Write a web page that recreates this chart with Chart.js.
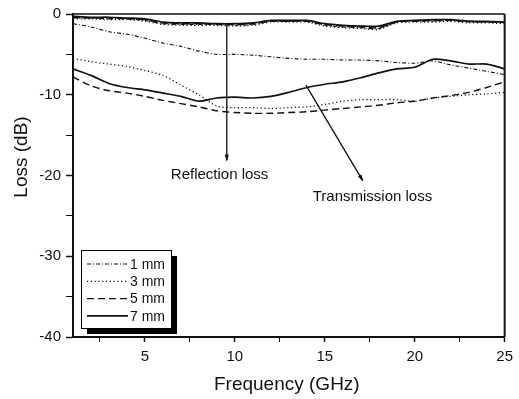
<!DOCTYPE html>
<html>
<head>
<meta charset="utf-8">
<script src="https://cdn.jsdelivr.net/npm/chart.js@4.4.0/dist/chart.umd.min.js"></script>
<style>
  html, body { margin: 0; padding: 0; background: #fff; }
  #wrap { width: 519px; height: 399px; }
</style>
</head>
<body>
<div id="wrap"><canvas id="lossChart" width="519" height="399"></canvas></div>
<script>
// Frequency points (GHz)
const freqs = [1, 2, 3, 4, 5, 6, 7, 8, 9, 10, 11, 12, 13, 14, 15, 16, 17, 18, 19, 20, 21, 22, 23, 24, 25];

// Transmission loss (dB) per sample thickness
const trans1mm = [-1.2, -1.6, -2.2, -2.5, -3.0, -3.6, -4.0, -4.6, -5.0, -5.0, -5.1, -5.3, -5.5, -5.6, -5.6, -5.7, -5.7, -5.8, -6.0, -6.1, -5.8, -6.3, -6.7, -7.1, -7.5];
const trans3mm = [-5.5, -5.9, -6.2, -6.5, -7.0, -7.6, -8.8, -10.0, -11.4, -11.6, -11.6, -11.7, -11.6, -11.5, -11.2, -10.8, -10.6, -10.6, -10.6, -10.8, -10.4, -10.2, -10.0, -9.9, -9.7];
const trans5mm = [-7.8, -8.9, -9.5, -9.8, -10.2, -10.7, -11.1, -11.5, -12.0, -12.2, -12.3, -12.3, -12.2, -12.1, -11.9, -11.7, -11.5, -11.3, -11.0, -10.8, -10.4, -10.1, -9.7, -9.1, -8.4];
const trans7mm = [-6.8, -7.6, -8.6, -9.1, -9.4, -9.8, -10.2, -10.8, -10.4, -10.3, -10.4, -10.2, -9.7, -9.1, -8.7, -8.4, -7.9, -7.3, -6.8, -6.6, -5.6, -5.8, -6.2, -6.2, -6.8];

// Reflection loss (dB) per sample thickness
const refl1mm = [-0.5, -0.5, -0.6, -0.6, -0.8, -1.2, -1.3, -1.3, -1.3, -1.4, -1.3, -0.9, -0.9, -0.9, -1.4, -1.6, -1.7, -1.8, -1.0, -0.9, -0.9, -0.8, -1.0, -1.0, -1.1];
const refl3mm = [-0.6, -0.6, -0.7, -0.7, -0.9, -1.3, -1.4, -1.4, -1.4, -1.5, -1.4, -1.0, -1.0, -1.0, -1.5, -1.7, -1.8, -1.9, -1.1, -1.0, -1.0, -0.9, -1.1, -1.1, -1.2];
const refl5mm = [-0.4, -0.5, -0.5, -0.6, -0.7, -1.1, -1.2, -1.2, -1.3, -1.3, -1.2, -0.9, -0.9, -0.9, -1.3, -1.5, -1.6, -1.7, -1.0, -0.9, -0.8, -0.8, -0.9, -1.0, -1.0];
const refl7mm = [-0.3, -0.4, -0.4, -0.5, -0.6, -1.0, -1.1, -1.1, -1.2, -1.2, -1.1, -0.8, -0.8, -0.8, -1.2, -1.4, -1.5, -1.5, -0.9, -0.8, -0.7, -0.7, -0.9, -0.9, -1.0];

const thicknessLabels = ['1 mm', '3 mm', '5 mm', '7 mm'];
const xTickValues = [2.5, 5, 7.5, 10, 12.5, 15, 17.5, 20, 22.5, 25];
const yTickValues = [-40, -35, -30, -25, -20, -15, -10, -5, 0];

const FONT = "'Liberation Sans', Arial, Helvetica, sans-serif";
const INK = '#111';

// dash pattern + width for each thickness
const lineStyles = [
    { dash: [4, 2, 1, 2], width: 1.1 },
    { dash: [1.2, 2.6], width: 1.3 },
    { dash: [7, 4], width: 1.4 },
    { dash: [], width: 1.7 }
];

function makeSet(label, values, idx) {
    return {
        label: label,
        data: freqs.map((f, i) => ({ x: f, y: values[i] })),
        borderColor: INK,
        borderWidth: lineStyles[idx].width,
        borderDash: lineStyles[idx].dash,
        pointRadius: 0,
        tension: 0.25,
        fill: false
    };
}

const transSeries = [trans1mm, trans3mm, trans5mm, trans7mm];
const reflSeries = [refl1mm, refl3mm, refl5mm, refl7mm];

const datasets = [];
transSeries.forEach((vals, i) => datasets.push(makeSet(thicknessLabels[i], vals, i)));
reflSeries.forEach((vals, i) => datasets.push(makeSet(thicknessLabels[i], vals, i)));

// annotation arrows, in data units: [fromX, fromY, toX, toY]
const reflArrow = [9.55, -1.4, 9.55, -18.1];
const transArrow = [13.95, -8.8, 17.1, -20.6];
const reflText = { text: 'Reflection loss', x: 9.15, y: -19.9 };
const transText = { text: 'Transmission loss', x: 17.65, y: -22.7 };

function drawArrow(ctx, x1, y1, x2, y2) {
    ctx.beginPath();
    ctx.moveTo(x1, y1);
    ctx.lineTo(x2, y2);
    ctx.stroke();
    const a = Math.atan2(y2 - y1, x2 - x1);
    const len = 6, spread = 0.35;
    ctx.beginPath();
    ctx.moveTo(x2 + 1.5 * Math.cos(a), y2 + 1.5 * Math.sin(a));
    ctx.lineTo(x2 - len * Math.cos(a - spread), y2 - len * Math.sin(a - spread));
    ctx.lineTo(x2 - len * Math.cos(a + spread), y2 - len * Math.sin(a + spread));
    ctx.closePath();
    ctx.fill();
}

const decorPlugin = {
    id: 'decor',
    afterDraw(chart) {
        const ctx = chart.ctx;
        const area = chart.chartArea;
        const xs = chart.scales.x, ys = chart.scales.y;
        ctx.save();
        ctx.strokeStyle = INK;
        ctx.fillStyle = INK;

        // top and right frame
        ctx.lineWidth = 1.5;
        ctx.beginPath();
        ctx.moveTo(area.left, area.top);
        ctx.lineTo(area.right, area.top);
        ctx.stroke();
        ctx.lineWidth = 2;
        ctx.beginPath();
        ctx.moveTo(area.right, area.top);
        ctx.lineTo(area.right, area.bottom);
        ctx.stroke();

        // arrows + labels
        ctx.lineWidth = 1.3;
        drawArrow(ctx, xs.getPixelForValue(reflArrow[0]), ys.getPixelForValue(reflArrow[1]),
                  xs.getPixelForValue(reflArrow[2]), ys.getPixelForValue(reflArrow[3]));
        drawArrow(ctx, xs.getPixelForValue(transArrow[0]), ys.getPixelForValue(transArrow[1]),
                  xs.getPixelForValue(transArrow[2]), ys.getPixelForValue(transArrow[3]));
        ctx.font = '15px ' + FONT;
        ctx.textAlign = 'center';
        ctx.textBaseline = 'middle';
        [reflText, transText].forEach(t => {
            ctx.fillText(t.text, xs.getPixelForValue(t.x), ys.getPixelForValue(t.y));
        });

        // axis titles
        ctx.font = '19px ' + FONT;
        ctx.fillText('Frequency (GHz)', (area.left + area.right) / 2 - 2, 385);
        ctx.save();
        ctx.translate(22, 157);
        ctx.rotate(-Math.PI / 2);
        ctx.fillText('Loss (dB)', 0, 0);
        ctx.restore();

        // legend box with drop shadow
        const bx = 81, by = 250, bw = 90, bh = 78;
        ctx.fillStyle = '#000';
        ctx.fillRect(bx + 6, by + 6, bw, bh);
        ctx.fillStyle = '#fff';
        ctx.fillRect(bx, by, bw, bh);
        ctx.lineWidth = 1;
        ctx.strokeStyle = '#000';
        ctx.strokeRect(bx + 0.5, by + 0.5, bw, bh);
        ctx.fillStyle = INK;
        ctx.font = '14px ' + FONT;
        ctx.textAlign = 'left';
        thicknessLabels.forEach((lab, i) => {
            const ds = chart.data.datasets[i];
            const ry = by + 14 + i * 17.3;
            ctx.save();
            ctx.lineWidth = ds.borderWidth;
            ctx.setLineDash(ds.borderDash);
            ctx.strokeStyle = INK;
            ctx.beginPath();
            ctx.moveTo(bx + 6, ry);
            ctx.lineTo(bx + 47, ry);
            ctx.stroke();
            ctx.restore();
            ctx.fillText(lab, bx + 49, ry + 1);
        });
        ctx.restore();
    }
};

new Chart(document.getElementById('lossChart'), {
    type: 'line',
    data: { datasets: datasets },
    plugins: [decorPlugin],
    options: {
        responsive: false,
        animation: false,
        layout: { padding: { left: 0, top: 14, right: 11, bottom: 0 } },
        plugins: {
            legend: { display: false },
            tooltip: { enabled: false }
        },
        scales: {
            x: {
                type: 'linear',
                min: 1,
                max: 25,
                afterBuildTicks: s => { s.ticks = xTickValues.map(v => ({ value: v })); },
                afterFit: s => { s.height = 62; },
                ticks: {
                    autoSkip: false,
                    maxRotation: 0,
                    padding: 6,
                    color: INK,
                    font: { family: FONT, size: 15 },
                    callback: v => (v % 5 === 0 ? String(v) : '')
                },
                grid: {
                    drawOnChartArea: false,
                    tickLength: 5,
                    tickWidth: c => (c.tick && c.tick.value % 5 === 0 ? 1.5 : 1),
                    tickColor: INK
                },
                border: { color: INK, width: 2 }
            },
            y: {
                min: -40,
                max: 0,
                afterBuildTicks: s => { s.ticks = yTickValues.map(v => ({ value: v })); },
                afterFit: s => { s.width = 73; },
                ticks: {
                    autoSkip: false,
                    padding: 5,
                    color: INK,
                    font: { family: FONT, size: 15 },
                    callback: v => (v % 10 === 0 ? String(v) : '')
                },
                grid: {
                    drawOnChartArea: false,
                    tickLength: 7,
                    tickWidth: c => (c.tick && c.tick.value % 10 === 0 ? 1.5 : 1),
                    tickColor: INK
                },
                border: { color: INK, width: 2 }
            }
        }
    }
});
</script>
</body>
</html>
